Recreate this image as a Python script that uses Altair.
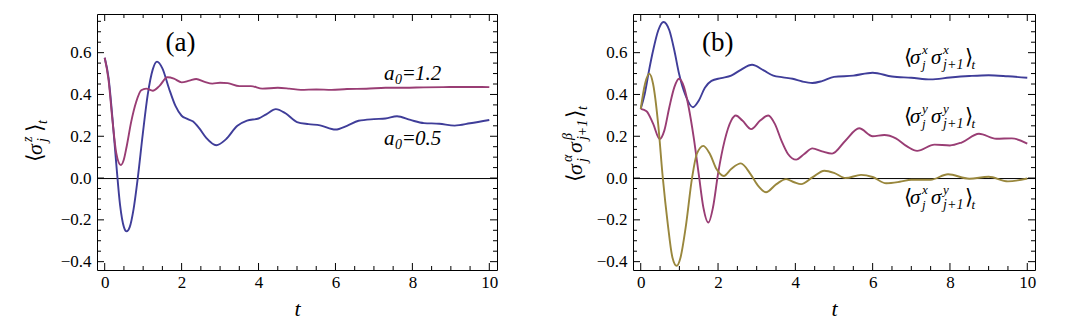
import altair as alt
import pandas as pd

# ---------------- data ----------------
# panel (a): <sigma^z_j>_t
a05_t = [0, 0.1, 0.2, 0.3, 0.4, 0.5, 0.57, 0.65, 0.75, 0.86, 0.99, 1.12, 1.25, 1.36, 1.5, 1.67, 1.84, 2.0, 2.15, 2.3,
         2.45, 2.64, 2.9, 3.15, 3.45, 3.7, 4.0, 4.2, 4.45, 4.7, 5.0, 5.3, 5.6, 6.0, 6.3, 6.6, 7.0, 7.3, 7.6, 7.95,
         8.3, 8.7, 9.1, 9.5, 10]
a05_v = [0.576, 0.48, 0.29, 0.07, -0.13, -0.235, -0.255, -0.235, -0.15, 0.0, 0.21, 0.40, 0.52, 0.557, 0.525, 0.43,
         0.345, 0.298, 0.283, 0.27, 0.24, 0.192, 0.157, 0.185, 0.25, 0.275, 0.285, 0.305, 0.33, 0.31, 0.268, 0.258,
         0.252, 0.232, 0.25, 0.274, 0.282, 0.285, 0.296, 0.278, 0.263, 0.26, 0.251, 0.262, 0.278]
a12_t = [0, 0.1, 0.2, 0.3, 0.42, 0.5, 0.57, 0.69, 0.82, 0.95, 1.08, 1.25, 1.42, 1.63, 1.8, 2.0, 2.2, 2.38, 2.6, 2.8,
         3.0, 3.2, 3.5, 3.8, 4.1, 4.5, 4.8, 5.1, 5.5, 5.9, 6.3, 6.8, 7.3, 7.8, 8.3, 8.8, 9.3, 9.8, 10]
a12_v = [0.576, 0.47, 0.28, 0.12, 0.062, 0.09, 0.15, 0.27, 0.365, 0.42, 0.428, 0.418, 0.44, 0.482, 0.476, 0.458,
         0.466, 0.474, 0.46, 0.452, 0.456, 0.454, 0.44, 0.44, 0.428, 0.432, 0.428, 0.422, 0.424, 0.422, 0.426, 0.427,
         0.432, 0.432, 0.434, 0.435, 0.436, 0.436, 0.435]

# panel (b): nearest-neighbour correlations
xx_t = [0, 0.1, 0.22, 0.32, 0.45, 0.59, 0.74, 0.87, 0.99, 1.16, 1.35, 1.5, 1.66, 1.83, 2.08, 2.34, 2.59, 2.88, 3.18,
        3.43, 3.68, 3.93, 4.18, 4.44, 4.69, 5.0, 5.5, 6.0, 6.5, 7.0, 7.5, 8.0, 8.5, 9.0, 9.5, 10]
xx_v = [0.331, 0.4, 0.52, 0.61, 0.705, 0.747, 0.707, 0.61, 0.5, 0.395, 0.339, 0.37, 0.432, 0.465, 0.478, 0.49, 0.518,
        0.542, 0.515, 0.49, 0.482, 0.475, 0.462, 0.455, 0.464, 0.484, 0.49, 0.504, 0.486, 0.48, 0.472, 0.481, 0.488,
        0.492, 0.487, 0.48]
yy_t = [0, 0.15, 0.32, 0.49, 0.61, 0.74, 0.87, 0.99, 1.12, 1.24, 1.37, 1.5, 1.62, 1.75, 1.87, 2.0, 2.17, 2.34, 2.46,
        2.63, 2.86, 3.09, 3.3, 3.47, 3.64, 3.81, 4.02, 4.23, 4.44, 4.69, 4.95, 5.3, 5.65, 6.0, 6.3, 6.6, 6.9, 7.15,
        7.6, 8.0, 8.3, 8.75, 9.2, 9.6, 10]
yy_v = [0.331, 0.32, 0.26, 0.187, 0.227, 0.339, 0.435, 0.475, 0.435, 0.339, 0.195, 0.02, -0.14, -0.213, -0.14, 0.02,
        0.179, 0.275, 0.299, 0.275, 0.234, 0.275, 0.299, 0.259, 0.179, 0.115, 0.088, 0.115, 0.142, 0.128, 0.117,
        0.18, 0.238, 0.2, 0.206, 0.19, 0.15, 0.13, 0.16, 0.156, 0.17, 0.212, 0.188, 0.19, 0.165]
xy_t = [0, 0.11, 0.22, 0.32, 0.45, 0.57, 0.7, 0.82, 0.93, 1.03, 1.16, 1.33, 1.45, 1.62, 1.79, 1.96, 2.15, 2.34, 2.59,
        2.84, 3.05, 3.24, 3.51, 3.76, 3.97, 4.15, 4.44, 4.75, 5.0, 5.3, 5.7, 6.0, 6.35, 6.7, 7.0, 7.5, 7.95, 8.5,
        9.0, 9.5, 10]
xy_v = [0.331, 0.45, 0.499, 0.45, 0.26, 0.003, -0.22, -0.38, -0.42, -0.38, -0.24, 0.003, 0.115, 0.154, 0.115, 0.043,
        0.01, 0.043, 0.07, 0.019, -0.04, -0.068, -0.029, -0.005, -0.02, -0.029, 0.003, 0.035, 0.025, 0.0, 0.015,
        0.005, -0.025, -0.018, -0.008, -0.008, 0.018, -0.003, 0.006, -0.016, -0.002]

x_label_values = [0, 2, 4, 6, 8, 10]
y_label_values = [-0.4, -0.2, 0.0, 0.2, 0.4, 0.6]
x_major_ticks = [0, 2, 4, 6, 8, 10]
x_minor_ticks = [0.5, 1, 1.5, 2.5, 3, 3.5, 4.5, 5, 5.5, 6.5, 7, 7.5, 8.5, 9, 9.5]
y_major_ticks = [-0.4, -0.2, 0.0, 0.2, 0.4, 0.6]
y_minor_ticks = [-0.35, -0.3, -0.25, -0.15, -0.1, -0.05, 0.05, 0.1, 0.15, 0.25, 0.3, 0.35, 0.45, 0.5, 0.55,
                 0.65, 0.7, 0.75]

# ---------------- style ----------------
BLUE, MAGENTA, OLIVE = "#3f3d99", "#993d74", "#99873d"
FONT = "Liberation Serif"
T_DOM = [-0.2, 10.2]
V_DOM = [-0.44, 0.785]
H = 256
MAJ, MIN = 7, 4
TICK_COLOR = "black"

xs = alt.Scale(domain=T_DOM, nice=False, zero=False)
ys = alt.Scale(domain=V_DOM, nice=False, zero=False)

label_x_axis = alt.Axis(orient="bottom", values=x_label_values, format="d", labelFont=FONT, labelFontSize=17,
                        labelColor="black", ticks=False, tickSize=0, domain=False, grid=False, labelPadding=4,
                        labelFlush=False, title="t", titleFont=FONT, titleFontSize=22, titleFontStyle="italic",
                        titleFontWeight="normal", titleColor="black", titlePadding=8)
label_y_axis = alt.Axis(orient="left", values=y_label_values, format=".1f", labelFont=FONT, labelFontSize=17,
                        labelColor="black", ticks=False, tickSize=0, domain=False, grid=False, labelPadding=6,
                        title=None)


def text_layers(t, v, pieces, angle=0):
    df = pd.DataFrame({"t": [t], "v": [v]})
    out = []
    for txt, dx, dy, size, style in pieces:
        kw = dict(text=txt, align="left", baseline="alphabetic", dx=dx, dy=dy, fontSize=size,
                  font=FONT, fontStyle=style, color="black")
        if angle:
            kw["angle"] = angle
        out.append(alt.Chart(df).mark_text(**kw).encode(
            x=alt.X("t:Q", scale=xs, axis=None), y=alt.Y("v:Q", scale=ys, axis=None)))
    return out


def center_text(t, v, txt, size):
    df = pd.DataFrame({"t": [t], "v": [v]})
    return alt.Chart(df).mark_text(text=txt, align="center", baseline="alphabetic", fontSize=size,
                                   font=FONT, color="black").encode(
        x=alt.X("t:Q", scale=xs, axis=None), y=alt.Y("v:Q", scale=ys, axis=None))


def corr_pieces(a, b):
    return [("⟨", 0, 0, 21, "normal"), ("σ", 6.5, 0, 21, "italic"),
            (a, 18.5, -10, 13, "italic"), ("j", 18.5, 5, 13, "italic"),
            ("σ", 27.5, 0, 21, "italic"),
            (b, 39.5, -10, 13, "italic"), ("j+1", 39.5, 5, 14, "italic"),
            ("⟩", 61, 0, 21, "normal"), ("t", 68, 5, 13, "italic")]


def a0_pieces(val):
    return [("a", 0, 0, 21, "italic"), ("0", 11, 4, 14, "italic"),
            ("=", 19, 0, 21, "normal"), (val, 31, 0, 21, "italic")]


def frame_ticks(W):
    out = []
    for vals, ln in ((x_major_ticks, MAJ), (x_minor_ticks, MIN)):
        df = pd.DataFrame({"tk": vals})
        xe = alt.X("tk:Q", scale=xs, axis=None)
        out.append(alt.Chart(df).mark_rule(color=TICK_COLOR, strokeWidth=1).encode(
            x=xe, y=alt.value(H - ln), y2=alt.value(H)))
        out.append(alt.Chart(df).mark_rule(color=TICK_COLOR, strokeWidth=1).encode(
            x=xe, y=alt.value(0), y2=alt.value(ln)))
    for vals, ln in ((y_major_ticks, MAJ), (y_minor_ticks, MIN)):
        df = pd.DataFrame({"vk": vals})
        ye = alt.Y("vk:Q", scale=ys, axis=None)
        out.append(alt.Chart(df).mark_rule(color=TICK_COLOR, strokeWidth=1).encode(
            y=ye, x=alt.value(0), x2=alt.value(ln)))
        out.append(alt.Chart(df).mark_rule(color=TICK_COLOR, strokeWidth=1).encode(
            y=ye, x=alt.value(W - ln), x2=alt.value(W)))
    return out


def panel(series, W, extra):
    df = pd.concat([pd.DataFrame({"t": t, "v": v, "s": name, "c": col}) for name, t, v, col in series])
    zero = alt.Chart(pd.DataFrame({"v": [0.0]})).mark_rule(color="black", strokeWidth=1, yOffset=0.5).encode(
        y=alt.Y("v:Q", scale=ys, axis=None))
    lines = alt.Chart(df).mark_line(strokeWidth=1.9, interpolate="monotone").encode(
        x=alt.X("t:Q", scale=xs, axis=label_x_axis),
        y=alt.Y("v:Q", scale=ys, axis=label_y_axis),
        detail="s:N",
        color=alt.Color("c:N", scale=None, legend=None))
    layers = [zero, lines] + frame_ticks(W) + extra
    return alt.layer(*layers).resolve_axis(x="independent", y="independent").properties(width=W, height=H)


# panel (a)
W_A = 400
extra_a = [center_text(1.97, 0.61, "(a)", 27)]
extra_a += text_layers(7.26, 0.467, a0_pieces("1.2"))
extra_a += text_layers(7.26, 0.158, a0_pieces("0.5"))
extra_a += text_layers(-1.63, 0.077,
                       [("⟨", 0, 0, 22, "normal"), ("σ", 7, 0, 22, "italic"),
                        ("z", 20, -10, 14, "italic"), ("j", 20, 5, 14, "italic"),
                        ("⟩", 30, 0, 22, "normal"), ("t", 38, 5, 14, "italic")], angle=270)
panel_a = panel([("a0=0.5", a05_t, a05_v, BLUE), ("a0=1.2", a12_t, a12_v, MAGENTA)], W_A, extra_a)

# panel (b)
W_B = 402
extra_b = [center_text(1.99, 0.61, "(b)", 27)]
extra_b += text_layers(6.8, 0.547, corr_pieces("x", "x"))
extra_b += text_layers(6.8, 0.262, corr_pieces("y", "y"))
extra_b += text_layers(6.8, -0.122, corr_pieces("x", "y"))
extra_b += text_layers(-1.52, -0.019,
                       [("⟨", 0, 0, 22, "normal"), ("σ", 7, 0, 22, "italic"),
                        ("α", 20, -10, 14, "italic"), ("j", 20, 5, 14, "italic"),
                        ("σ", 29, 0, 22, "italic"),
                        ("β", 42, -10, 14, "italic"), ("j+1", 42, 5, 14, "italic"),
                        ("⟩", 64, 0, 22, "normal"), ("t", 72, 5, 14, "italic")], angle=270)
panel_b = panel([("xx", xx_t, xx_v, BLUE), ("yy", yy_t, yy_v, MAGENTA), ("xy", xy_t, xy_v, OLIVE)],
                W_B, extra_b)

chart = alt.hconcat(panel_a, panel_b, spacing=136, bounds="flush").properties(
    padding={"left": 12, "top": 5, "right": 5, "bottom": 5}
).configure_view(stroke="black", strokeWidth=1)

chart.save("out.html", embed_options={"renderer": "svg", "actions": False})
